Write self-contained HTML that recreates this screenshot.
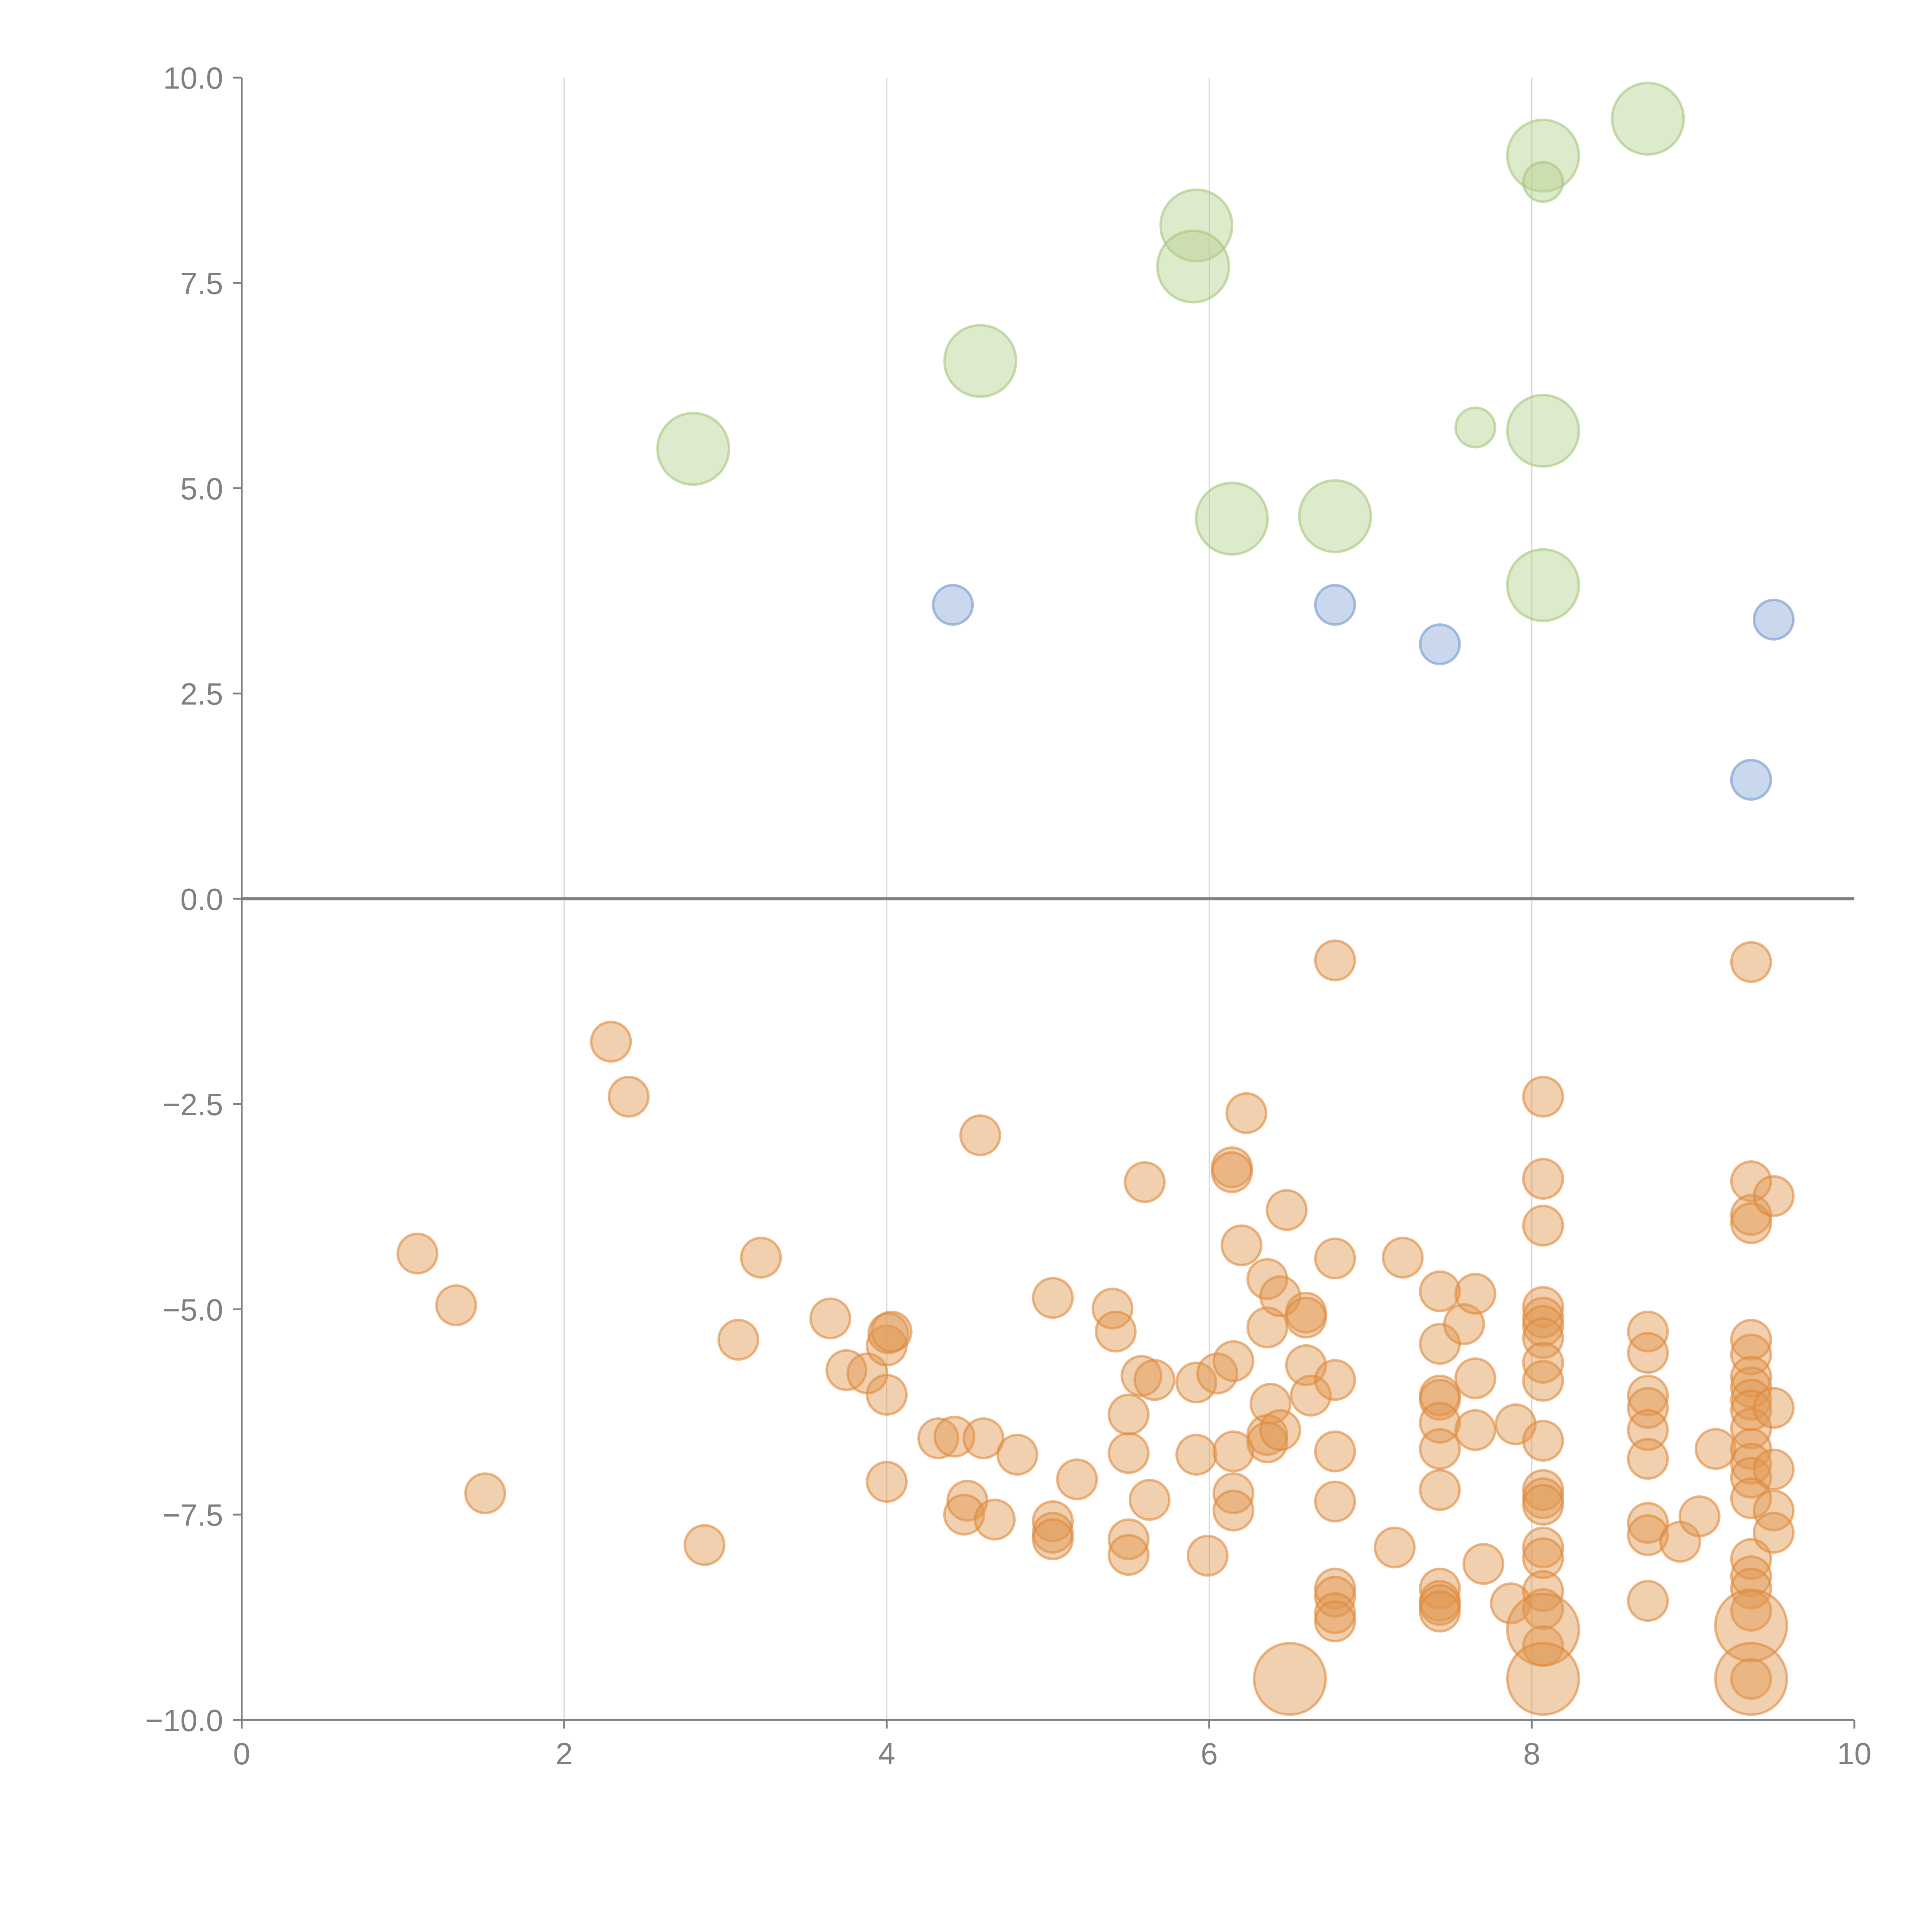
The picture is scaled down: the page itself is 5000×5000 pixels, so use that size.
<!DOCTYPE html>
<html><head><meta charset="utf-8"><style>html,body{margin:0;padding:0;background:#fff}svg{display:block}</style></head>
<body>
<svg id="chart" width="5000" height="5000" viewBox="0 0 1567 1567" xmlns="http://www.w3.org/2000/svg" font-family="Liberation Sans, Arial, sans-serif">
<g id="grid"></g>
<g id="axes"></g>
<g id="marks"></g>
</svg>
<script>
const xTicks = [0, 2, 4, 6, 8, 10];
const yTicks = [10, 7.5, 5, 2.5, 0, -2.5, -5, -7.5, -10];
const xTickLabels = ["0", "2", "4", "6", "8", "10"];
const yTickLabels = ["10.0", "7.5", "5.0", "2.5", "0.0", "\u22122.5", "\u22125.0", "\u22127.5", "\u221210.0"];
const greenX = [2.8,4.58,5.92,5.9,6.14,6.78,8.07,8.07,8.72,7.65,8.07,8.07];
const greenY = [5.48,6.55,8.2,7.7,4.63,4.66,9.05,8.73,9.5,5.74,5.7,3.82];
const greenSize = [2,2,2,2,2,2,2,1,2,1,2,2];
const blueX = [4.41,6.78,7.43,9.5,9.36];
const blueY = [3.58,3.58,3.1,3.4,1.45];
const orangeX = [1.09,1.33,1.51,2.29,2.4,2.87,3.08,3.22,3.65,3.75,3.88,4.0,4.01,4.03,4.0,4.0,4.32,4.42,4.5,4.48,4.6,4.58,4.67,4.81,5.03,5.03,5.03,5.03,5.18,5.4,5.42,5.5,5.5,5.5,5.5,5.58,5.6,5.63,5.66,5.92,5.92,5.99,6.05,6.14,6.14,6.15,6.15,6.15,6.15,6.2,6.23,6.36,6.36,6.38,6.36,6.36,6.44,6.44,6.48,6.6,6.6,6.6,6.63,6.78,6.78,6.78,6.78,6.78,6.78,6.78,6.78,6.78,7.2,7.15,7.43,7.43,7.43,7.43,7.43,7.43,7.43,7.43,7.43,7.43,7.43,7.58,7.65,7.65,7.65,7.7,7.9,7.87,8.07,8.07,8.07,8.07,8.07,8.07,8.07,8.07,8.07,8.07,8.07,8.07,8.07,8.07,8.07,8.07,8.07,8.07,8.72,8.72,8.72,8.72,8.72,8.72,8.72,8.72,8.72,8.92,9.04,9.14,9.36,9.36,9.36,9.36,9.36,9.36,9.36,9.36,9.36,9.36,9.36,9.36,9.36,9.36,9.36,9.36,9.36,9.36,9.36,9.36,9.5,9.5,9.5,9.5,9.5,6.5,8.07,8.07,9.36,9.36];
const orangeY = [-4.32,-4.95,-7.24,-1.74,-2.41,-7.87,-5.37,-4.37,-5.11,-5.74,-5.78,-5.44,-5.29,-5.27,-6.04,-7.1,-6.57,-6.55,-7.33,-7.5,-6.57,-2.88,-7.56,-6.77,-4.86,-7.58,-7.72,-7.8,-7.07,-4.99,-5.27,-6.28,-6.75,-7.8,-7.99,-5.81,-3.45,-7.32,-5.86,-5.89,-6.77,-8,-5.78,-3.27,-3.33,-5.63,-6.73,-7.24,-7.45,-4.22,-2.61,-4.63,-5.22,-6.15,-6.53,-6.62,-4.84,-6.47,-3.79,-5.04,-5.1,-5.68,-6.05,-0.75,-4.38,-5.86,-6.73,-7.34,-8.4,-8.5,-8.7,-8.8,-4.37,-7.9,-4.78,-5.42,-6.05,-6.1,-6.38,-6.7,-7.2,-8.4,-8.55,-8.6,-8.68,-5.18,-4.81,-5.84,-6.47,-8.1,-6.4,-8.58,-2.41,-3.41,-3.98,-4.97,-5.1,-5.2,-5.35,-5.65,-5.87,-6.6,-7.2,-7.3,-7.38,-7.9,-8.03,-8.43,-8.65,-9.1,-5.27,-5.53,-6.05,-6.2,-6.47,-6.82,-7.6,-7.75,-8.55,-7.83,-7.52,-6.7,-0.77,-3.44,-3.85,-3.95,-5.37,-5.55,-5.82,-5.95,-6.1,-6.23,-6.45,-6.7,-6.88,-7.05,-7.3,-8.04,-8.25,-8.4,-8.67,-9.5,-3.62,-6.2,-6.95,-7.45,-7.72,-9.5,-8.9,-9.5,-8.85,-9.5];
const orangeSize = [1,1,1,1,1,1,1,1,1,1,1,1,1,1,1,1,1,1,1,1,1,1,1,1,1,1,1,1,1,1,1,1,1,1,1,1,1,1,1,1,1,1,1,1,1,1,1,1,1,1,1,1,1,1,1,1,1,1,1,1,1,1,1,1,1,1,1,1,1,1,1,1,1,1,1,1,1,1,1,1,1,1,1,1,1,1,1,1,1,1,1,1,1,1,1,1,1,1,1,1,1,1,1,1,1,1,1,1,1,1,1,1,1,1,1,1,1,1,1,1,1,1,1,1,1,1,1,1,1,1,1,1,1,1,1,1,1,1,1,1,1,1,1,1,1,1,1,2,2,2,2,2];

const NS = "http://www.w3.org/2000/svg";
const X0 = 196, X1 = 1504, Y0 = 1395, Y1 = 63;
function sx(v){ return X0 + (v - 0) / 10 * (X1 - X0); }
function sy(v){ return Y0 - (v + 10) / 20 * (Y0 - Y1); }
function rad(s){ return s === 2 ? 29 : (s === 1 ? 16 : 15); }
function mk(tag, attrs, parent){
  const e = document.createElementNS(NS, tag);
  for (const k in attrs) e.setAttribute(k, attrs[k]);
  parent.appendChild(e);
  return e;
}
const grid = document.getElementById('grid');
const axes = document.getElementById('axes');
const marks = document.getElementById('marks');

xTicks.forEach((t, i) => {
  if (t > 0 && t < 10) {
    const g = mk('line', {x1: sx(t), x2: sx(t), y1: Y1, y2: Y0, stroke: '#d8d8d8', 'stroke-width': 1}, grid);
    
    
  }
  const tk = mk('line', {x1: sx(t), x2: sx(t), y1: Y0, y2: Y0 + 7, stroke: '#808080', 'stroke-width': 1.5}, axes);
  
  
  const tl = mk('text', {x: sx(t), y: Y0 + 36, 'text-anchor': 'middle', 'font-size': 25, fill: '#808080'}, axes);
  tl.textContent = xTickLabels[i];
  
  
});
yTicks.forEach((t, i) => {
  const tk = mk('line', {x1: X0 - 7, x2: X0, y1: sy(t), y2: sy(t), stroke: '#808080', 'stroke-width': 1.5}, axes);
  
  
  const tl = mk('text', {x: X0 - 15, y: sy(t) + 9, 'text-anchor': 'end', 'font-size': 25, fill: '#808080'}, axes);
  tl.textContent = yTickLabels[i];
  
  
});
const ya = mk('line', {x1: X0, x2: X0, y1: Y1, y2: Y0, stroke: '#808080', 'stroke-width': 1.5}, axes);


const xa = mk('line', {x1: X0, x2: X1, y1: Y0, y2: Y0, stroke: '#808080', 'stroke-width': 1.5}, axes);


const zl = mk('line', {x1: X0, x2: X1, y1: sy(0), y2: sy(0), stroke: '#808080', 'stroke-width': 2.5}, axes);



function drawSeries(xs, ys, sizes, fill, stroke, name){
  xs.forEach((v, i) => {
    const c = mk('circle', {cx: sx(v), cy: sy(ys[i]), r: rad(sizes ? sizes[i] : 1), fill: fill, 'fill-opacity': 0.45, stroke: stroke, 'stroke-opacity': 0.6, 'stroke-width': 2}, marks);
    
    
  });
}
drawSeries(orangeX, orangeY, orangeSize, '#e0974f', '#e0893a', 'orange-point');
drawSeries(greenX, greenY, greenSize, '#b5d18f', '#a3c67a', 'green-point');
drawSeries(blueX, blueY, null, '#8aa8d6', '#7396cc', 'blue-point');
</script>
</body></html>
